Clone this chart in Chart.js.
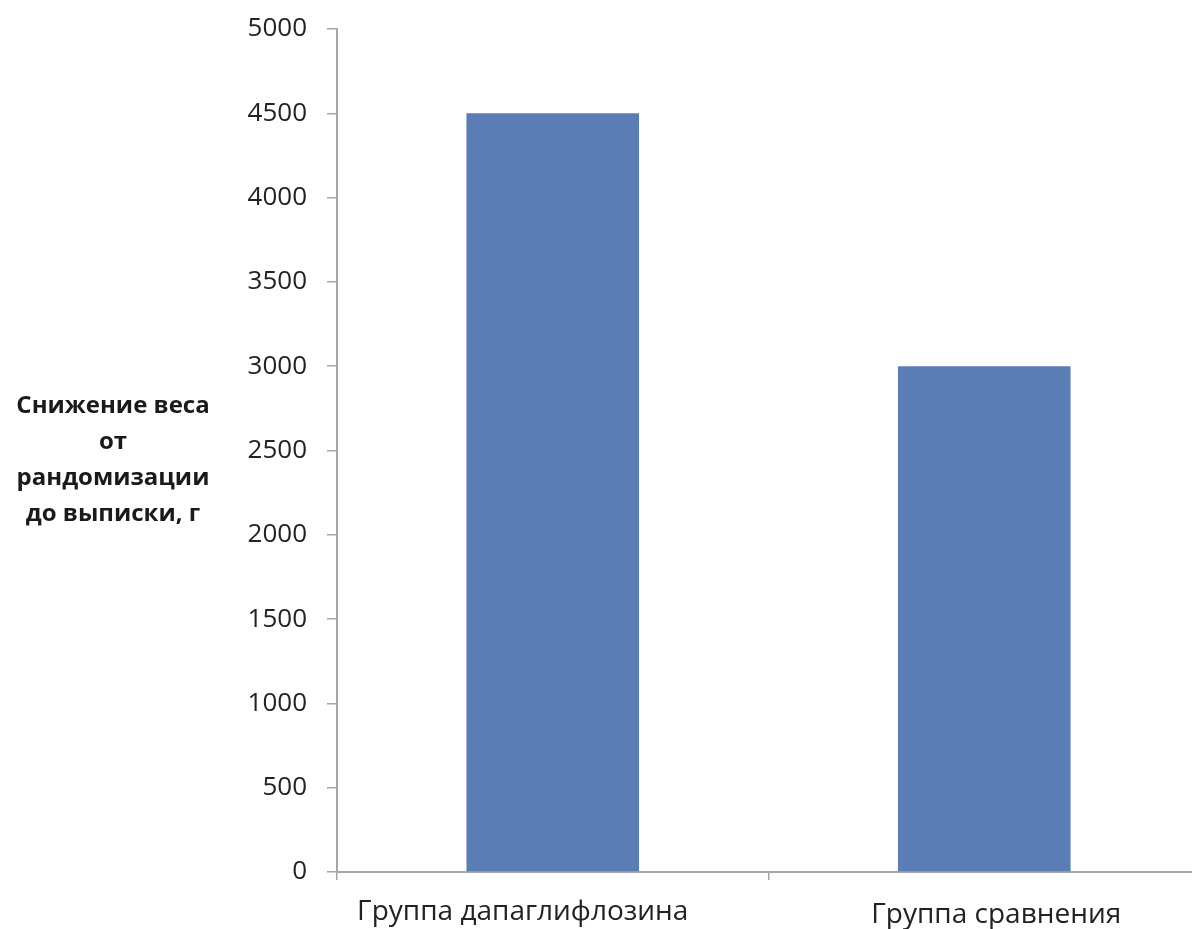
<!DOCTYPE html>
<html lang="ru">
<head>
<meta charset="utf-8">
<title>Снижение веса от рандомизации до выписки</title>
<script src="https://cdn.jsdelivr.net/npm/chart.js@4/dist/chart.umd.min.js"></script>
<style>
  html, body { margin: 0; padding: 0; background: #ffffff; overflow: hidden; }
  #wrap { width: 1200px; height: 929px; }
</style>
</head>
<body>
<div id="wrap"><canvas id="chart" width="1200" height="929"></canvas></div>
<script>
// Groups and weight loss, g
const categories = ['Группа дапаглифлозина', 'Группа сравнения'];
const weightLoss = [4500, 3000];
const yTicks = [0, 500, 1000, 1500, 2000, 2500, 3000, 3500, 4000, 4500, 5000];
const yTitleLines = ['Снижение веса', 'от', 'рандомизации', 'до выписки, г'];

const FONT = '"Open Sans", "Noto Sans", sans-serif';

// Horizontal multi-line title to the left of the value axis
const sideTitle = {
  id: 'sideTitle',
  afterDraw(chart) {
    const ctx = chart.ctx;
    const lineH = 36;
    const cx = 113;
    const firstY = 406;
    ctx.save();
    ctx.font = 'bold 24px ' + FONT;
    ctx.fillStyle = '#1a1a1a';
    ctx.textAlign = 'center';
    ctx.textBaseline = 'middle';
    yTitleLines.forEach((t, i) => ctx.fillText(t, cx, firstY + i * lineH));
    ctx.restore();
  }
};

// Small per-label nudges of the category labels under the axis
const labelNudge = {
  id: 'labelNudge',
  beforeDraw(chart) {
    const shifts = [[-30, 0], [12, 3]];
    const items = chart.scales.x.getLabelItems();
    items.forEach((it, i) => {
      const s = shifts[i];
      if (s && it.options && it.options.translation) {
        it.options.translation = [it.options.translation[0] + s[0], it.options.translation[1] + s[1]];
      }
    });
  }
};

new Chart(document.getElementById('chart'), {
  type: 'bar',
  data: {
    labels: categories,
    datasets: [{
      data: weightLoss,
      backgroundColor: '#5a7db5',
      borderWidth: 0,
      barPercentage: 0.4,
      categoryPercentage: 1.0
    }]
  },
  options: {
    responsive: false,
    animation: false,
    layout: { padding: { top: 29, right: 0, bottom: 0, left: 0 } },
    plugins: {
      legend: { display: false },
      tooltip: { enabled: false }
    },
    scales: {
      x: {
        offset: true,
        grid: {
          display: true,
          offset: true,
          drawOnChartArea: false,
          drawTicks: true,
          tickLength: 8,
          color: '#a6a6a6',
          lineWidth: 1.5
        },
        border: { display: true, color: '#a6a6a6', width: 2 },
        ticks: {
          color: '#222222',
          font: { family: FONT, size: 28 },
          padding: 15,
          maxRotation: 0,
          autoSkip: false
        },
        afterFit(scale) {
          scale.height = 57;
          scale.paddingLeft = 0;
          scale.paddingRight = 0;
        }
      },
      y: {
        min: 0,
        max: 5000,
        afterBuildTicks(scale) { scale.ticks = yTicks.map(v => ({ value: v })); },
        grid: {
          display: true,
          drawOnChartArea: false,
          drawTicks: true,
          tickLength: 10,
          color: '#a6a6a6',
          lineWidth: 1.5
        },
        border: { display: true, color: '#a6a6a6', width: 2 },
        ticks: {
          color: '#222222',
          font: { family: FONT, size: 26 },
          padding: 20,
          callback: v => String(v)
        },
        afterFit(scale) {
          scale.width = 337;
          scale.paddingTop = 0;
          scale.paddingBottom = 0;
        }
      }
    }
  },
  plugins: [sideTitle, labelNudge]
});
</script>
</body>
</html>
